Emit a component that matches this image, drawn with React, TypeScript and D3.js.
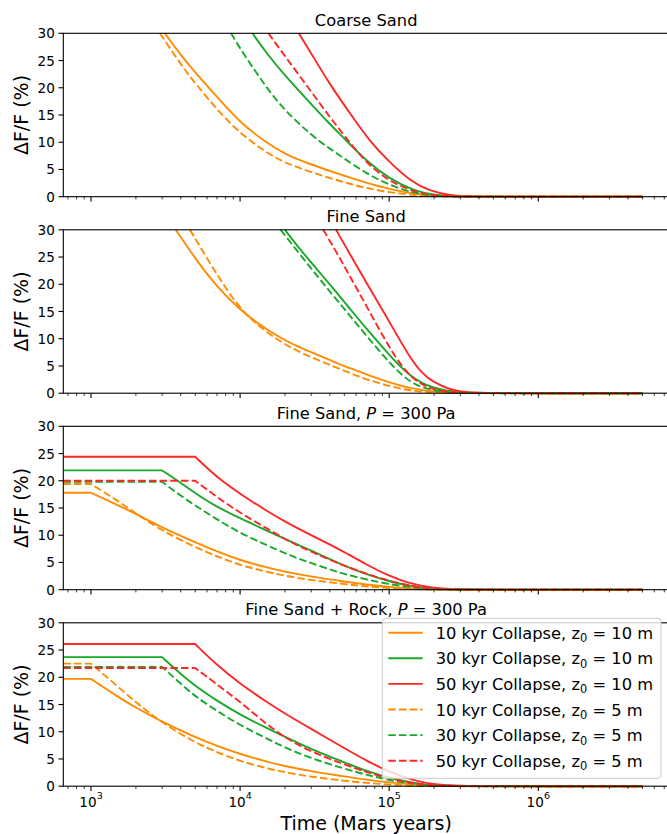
import React from "react";
import * as d3 from "d3";

type Pt = [number, number];

// ---------- data (time in Mars years, value in %) ----------
const panelTitles = ["Coarse Sand", "Fine Sand", "Fine Sand, P = 300 Pa", "Fine Sand + Rock, P = 300 Pa"];
const seriesLabels = [
  "10 kyr Collapse, z0 = 10 m",
  "30 kyr Collapse, z0 = 10 m",
  "50 kyr Collapse, z0 = 10 m",
  "10 kyr Collapse, z0 = 5 m",
  "30 kyr Collapse, z0 = 5 m",
  "50 kyr Collapse, z0 = 5 m",
];
const yTicks = [0, 5, 10, 15, 20, 25, 30];
const xMajorTicks = [1e3, 1e4, 1e5, 1e6];
const xTickExponents = ["3", "4", "5", "6"];

// Panel 1: Coarse Sand
const coarseO10: Pt[] = [[3130, 30], [4000, 26.0], [5000, 22.8], [7000, 18.3], [10000, 13.6], [15000, 9.9], [20000, 7.8], [30000, 5.9], [50000, 3.8], [70000, 2.6], [100000, 1.4], [150000, 0.45], [200000, 0.15], [300000, 0.03], [500000, 0], [5e6, 0]];
const coarseG10: Pt[] = [[12100, 30], [15000, 26.4], [20000, 22.2], [30000, 17.0], [40000, 13.3], [50000, 10.7], [70000, 6.6], [100000, 3.3], [150000, 1.0], [200000, 0.3], [300000, 0.03], [500000, 0], [5e6, 0]];
const coarseR10: Pt[] = [[24800, 30], [30000, 26.3], [40000, 20.6], [54600, 15.3], [74300, 10.1], [100000, 6.4], [138000, 2.9], [188000, 1.0], [256000, 0.25], [350000, 0.03], [500000, 0], [5e6, 0]];
const coarseO5: Pt[] = [[2900, 30], [4000, 24.3], [5000, 20.8], [7000, 16.0], [10000, 11.6], [15000, 8.1], [20000, 6.2], [30000, 4.5], [50000, 2.6], [70000, 1.6], [100000, 0.8], [150000, 0.25], [200000, 0.07], [300000, 0], [5e6, 0]];
const coarseG5: Pt[] = [[8690, 30], [10000, 27.2], [15000, 20.0], [20000, 15.8], [30000, 11.3], [40000, 8.8], [50000, 7.0], [70000, 4.3], [100000, 2.1], [150000, 0.6], [200000, 0.15], [300000, 0.01], [500000, 0], [5e6, 0]];
const coarseR5: Pt[] = [[15500, 30], [20000, 25.8], [30000, 19.3], [40000, 14.6], [50000, 11.2], [70000, 6.2], [100000, 2.8], [150000, 0.8], [200000, 0.2], [300000, 0.02], [500000, 0], [5e6, 0]];

// Panel 2: Fine Sand
const fineO10: Pt[] = [[3700, 30], [5380, 23.5], [7000, 19.6], [9480, 15.9], [12900, 12.9], [19500, 9.8], [25200, 8.4], [32700, 7.1], [42200, 5.8], [54600, 4.6], [70600, 3.4], [100000, 2.0], [138000, 0.9], [196000, 0.25], [300000, 0.03], [500000, 0], [5e6, 0]];
const fineG10: Pt[] = [[20000, 30], [25200, 26.4], [32700, 22.8], [42200, 19.2], [54600, 15.5], [70600, 11.8], [100000, 7.0], [138000, 3.0], [196000, 0.8], [300000, 0.06], [500000, 0], [5e6, 0]];
const fineR10: Pt[] = [[44000, 30], [54600, 25.5], [70600, 20.2], [100000, 13.2], [138000, 6.4], [170000, 3.4], [196000, 2.1], [256000, 0.6], [330000, 0.12], [500000, 0], [5e6, 0]];
const fineO5: Pt[] = [[4610, 30], [6970, 21.8], [9480, 16.3], [12900, 12.5], [19500, 9.1], [25200, 7.5], [32700, 6.2], [42200, 4.9], [54600, 3.7], [70600, 2.5], [100000, 1.3], [138000, 0.45], [196000, 0.1], [300000, 0.01], [500000, 0], [5e6, 0]];
const fineG5: Pt[] = [[18700, 30], [25200, 25.5], [32700, 21.6], [42200, 17.9], [54600, 14.2], [70600, 10.5], [100000, 5.6], [138000, 1.8], [196000, 0.4], [300000, 0.02], [500000, 0], [5e6, 0]];
const fineR5: Pt[] = [[36100, 30], [45000, 25.6], [54600, 21.4], [70600, 16.0], [100000, 8.3], [138000, 2.7], [196000, 0.5], [300000, 0.03], [500000, 0], [5e6, 0]];

// Panel 3: Fine Sand, P = 300 Pa
const lowPO10: Pt[] = [[652, 17.8], [1000, 17.8], [1500, 15.6], [2000, 13.9], [3000, 11.4], [5000, 8.7], [7000, 7.0], [10000, 5.4], [15000, 4.1], [20000, 3.3], [30000, 2.4], [50000, 1.5], [70000, 0.95], [100000, 0.5], [150000, 0.18], [200000, 0.05], [300000, 0], [5e6, 0]];
const lowPG10: Pt[] = [[652, 21.9], [3000, 21.9], [4160, 19.3], [5380, 17.1], [7000, 15.2], [10000, 13.1], [15000, 10.9], [20000, 9.3], [25200, 8.1], [30000, 7.2], [42200, 5.3], [50000, 4.4], [70600, 2.8], [100000, 1.5], [150000, 0.5], [200000, 0.15], [300000, 0.02], [500000, 0], [5e6, 0]];
const lowPR10: Pt[] = [[652, 24.4], [5000, 24.4], [7000, 20.6], [10000, 17.6], [15000, 14.5], [20000, 12.5], [30000, 10.0], [42200, 8.0], [50000, 6.9], [70600, 4.6], [100000, 2.5], [138000, 1.1], [196000, 0.3], [300000, 0.04], [500000, 0], [5e6, 0]];
const lowPO5: Pt[] = [[652, 19.4], [1000, 19.4], [1500, 16.4], [2000, 14.0], [3000, 10.8], [5000, 7.8], [7000, 6.1], [10000, 4.5], [15000, 3.3], [20000, 2.55], [30000, 1.75], [50000, 1.05], [70000, 0.6], [100000, 0.3], [150000, 0.08], [200000, 0.01], [300000, 0], [5e6, 0]];
const lowPG5: Pt[] = [[652, 19.8], [3000, 19.8], [4160, 16.9], [5380, 14.9], [7000, 12.9], [10000, 10.4], [15000, 8.2], [20000, 6.7], [25200, 5.6], [30000, 4.9], [42200, 3.5], [50000, 2.9], [70600, 1.85], [100000, 1.0], [150000, 0.35], [200000, 0.1], [300000, 0.01], [500000, 0], [5e6, 0]];
const lowPR5: Pt[] = [[652, 20.0], [5000, 20.0], [7000, 17.0], [10000, 14.1], [15000, 11.3], [20000, 9.3], [25200, 7.9], [30000, 7.0], [42200, 5.2], [50000, 4.4], [70600, 2.9], [100000, 1.6], [150000, 0.5], [200000, 0.14], [300000, 0.01], [500000, 0], [5e6, 0]];

// Panel 4: Fine Sand + Rock, P = 300 Pa
const rockO10: Pt[] = [[652, 19.7], [1000, 19.7], [1500, 16.5], [2000, 14.4], [3000, 11.8], [5000, 9.0], [7000, 7.4], [10000, 5.9], [15000, 4.5], [20000, 3.7], [30000, 2.7], [50000, 1.8], [70000, 1.2], [100000, 0.7], [150000, 0.25], [200000, 0.08], [300000, 0], [5e6, 0]];
const rockG10: Pt[] = [[652, 23.7], [3000, 23.7], [4000, 20.6], [5000, 18.4], [7000, 15.7], [10000, 13.1], [15000, 10.7], [20000, 9.1], [30000, 6.8], [50000, 4.4], [70000, 2.8], [100000, 1.5], [150000, 0.5], [200000, 0.15], [300000, 0.01], [500000, 0], [5e6, 0]];
const rockR10: Pt[] = [[652, 26.1], [5000, 26.1], [7000, 22.2], [10000, 18.8], [15000, 15.5], [20000, 13.3], [30000, 10.5], [50000, 7.0], [70000, 4.7], [100000, 2.6], [150000, 0.95], [200000, 0.3], [300000, 0.04], [500000, 0], [5e6, 0]];
const rockO5: Pt[] = [[652, 22.5], [1000, 22.5], [1500, 18.4], [2000, 15.4], [3000, 11.6], [5000, 8.0], [7000, 6.2], [10000, 4.6], [15000, 3.3], [20000, 2.55], [30000, 1.7], [50000, 1.0], [70000, 0.6], [100000, 0.3], [150000, 0.08], [200000, 0.01], [300000, 0], [5e6, 0]];
const rockG5: Pt[] = [[652, 21.9], [3000, 21.9], [4000, 18.8], [5000, 16.5], [7000, 13.8], [10000, 11.2], [15000, 8.8], [20000, 7.1], [30000, 5.1], [50000, 3.2], [70000, 2.1], [100000, 1.1], [150000, 0.38], [200000, 0.1], [300000, 0.01], [500000, 0], [5e6, 0]];
const rockR5: Pt[] = [[652, 21.7], [5000, 21.7], [7000, 18.7], [10000, 15.5], [15000, 11.4], [20000, 8.9], [30000, 6.3], [50000, 4.0], [70000, 2.6], [100000, 1.4], [150000, 0.45], [200000, 0.13], [300000, 0.01], [500000, 0], [5e6, 0]];

const panelSeries: Pt[][][] = [
  [coarseO10, coarseG10, coarseR10, coarseO5, coarseG5, coarseR5],
  [fineO10, fineG10, fineR10, fineO5, fineG5, fineR5],
  [lowPO10, lowPG10, lowPR10, lowPO5, lowPG5, lowPR5],
  [rockO10, rockG10, rockR10, rockO5, rockG5, rockR5],
];

// ---------- styles ----------
const COLORS = ["#ff8c00", "#18a82a", "#ff2626", "#ff8c00", "#18a82a", "#ff2626"];
const DASHED = [false, false, false, true, true, true];
const FONT = "DejaVu Sans, Liberation Sans, sans-serif";

const W = 667;
const H = 834;
const LEFT = 63.3;
const RIGHT = 669;
const PANEL_TOPS = [33.3, 229.8, 426.3, 622.8];
const PANEL_H = 163.4;

const xScale = d3.scaleLog().domain([652, 7.53e6]).range([LEFT, RIGHT]);

function minorTicks(): number[] {
  const out: number[] = [];
  for (let e = 2; e <= 6; e++) {
    for (let m = 2; m <= 9; m++) {
      const v = m * Math.pow(10, e);
      if (v >= 652 && v <= 7.53e6) out.push(v);
    }
  }
  return out;
}

function buildPath(pts: Pt[], y: d3.ScaleLinear<number, number>): string {
  const first = pts[0][1];
  let k = 0;
  while (k + 1 < pts.length && pts[k + 1][1] === first) k++;
  const lin = d3.line<Pt>().x((d) => xScale(d[0])).y((d) => y(d[1]));
  const smooth = d3
    .line<Pt>()
    .x((d) => xScale(d[0]))
    .y((d) => y(d[1]))
    .curve(d3.curveBasis);
  const flat = k > 0 ? lin(pts.slice(0, k + 1)) || "" : "";
  const rest = pts.slice(k);
  let restPath = rest.length > 1 ? smooth(rest) || "" : "";
  if (flat && restPath.startsWith("M")) {
    // continue the same subpath from the corner
    restPath = restPath.replace(/^M[^LC]*/, "");
  }
  return flat + restPath;
}

function Title({ idx, x, y }: { idx: number; x: number; y: number }) {
  const t = panelTitles[idx];
  if (t.includes("P = 300")) {
    const pre = t.split("P = 300")[0];
    return (
      <text x={x} y={y} textAnchor="middle" fontSize={16.3} fontFamily={FONT} fill="#000">
        {pre}
        <tspan fontStyle="italic">P</tspan>
        {" = 300 Pa"}
      </text>
    );
  }
  return (
    <text x={x} y={y} textAnchor="middle" fontSize={16.3} fontFamily={FONT} fill="#000">
      {t}
    </text>
  );
}

function Panel({ idx }: { idx: number }) {
  const top = PANEL_TOPS[idx];
  const bottom = top + PANEL_H;
  const y = d3.scaleLinear().domain([0, 30]).range([bottom, top]);
  const clipId = `clip-${idx}`;
  const isLast = idx === PANEL_TOPS.length - 1;
  const series = panelSeries[idx];
  return (
    <g>
      <defs>
        <clipPath id={clipId}>
          <rect x={LEFT} y={top - 2} width={RIGHT - LEFT} height={PANEL_H + 4} />
        </clipPath>
      </defs>
      <g clipPath={`url(#${clipId})`}>
        {series.map((pts, i) => (
          <path
            key={i}
            d={buildPath(pts, y)}
            fill="none"
            stroke={COLORS[i]}
            strokeWidth={1.9}
            strokeDasharray={DASHED[i] ? "7.5,3.2" : undefined}
            strokeLinejoin="round"
          />
        ))}
      </g>
      {/* spines */}
      <rect x={LEFT} y={top} width={RIGHT - LEFT} height={PANEL_H} fill="none" stroke="#000" strokeWidth={1.1} />
      {/* y ticks */}
      {yTicks.map((t) => (
        <g key={t}>
          <line x1={LEFT - 4.8} x2={LEFT} y1={y(t)} y2={y(t)} stroke="#000" strokeWidth={1.1} />
          <text x={LEFT - 8.5} y={y(t) + 5} textAnchor="end" fontSize={13.6} fontFamily={FONT} fill="#000">
            {t}
          </text>
        </g>
      ))}
      {/* x ticks */}
      {xMajorTicks.map((t) => (
        <line key={t} x1={xScale(t)} x2={xScale(t)} y1={bottom} y2={bottom + 4.8} stroke="#000" strokeWidth={1.1} />
      ))}
      {minorTicks().map((t) => (
        <line key={t} x1={xScale(t)} x2={xScale(t)} y1={bottom} y2={bottom + 2.7} stroke="#000" strokeWidth={0.8} />
      ))}
      {isLast &&
        xMajorTicks.map((t, i) => (
          <text key={t} x={xScale(t)} y={bottom + 20.5} textAnchor="middle" fontSize={13.6} fontFamily={FONT} fill="#000">
            10
            <tspan fontSize={9.5} dy={-7.5}>
              {xTickExponents[i]}
            </tspan>
          </text>
        ))}
      <Title idx={idx} x={(LEFT + RIGHT) / 2} y={top - 7.8} />
      <text
        transform={`translate(27.5, ${(top + bottom) / 2}) rotate(-90)`}
        textAnchor="middle"
        fontSize={19}
        fontFamily={FONT}
        fill="#000"
      >
        ΔF/F (%)
      </text>
    </g>
  );
}

function Legend() {
  const x0 = 382.3;
  const y0 = 618.3;
  const rowY = (i: number) => 632.7 + i * 25.6;
  return (
    <g>
      <rect x={x0} y={y0} width={278.7} height={160} rx={3} fill="#fff" fillOpacity={0.8} stroke="#cccccc" strokeWidth={1} />
      {seriesLabels.map((lab, i) => {
        const [pre, post] = lab.split("z0");
        return (
          <g key={i}>
            <line
              x1={388.3}
              x2={422.7}
              y1={rowY(i)}
              y2={rowY(i)}
              stroke={COLORS[i]}
              strokeWidth={1.9}
              strokeDasharray={DASHED[i] ? "7.5,3.2" : undefined}
            />
            <text x={435.7} y={rowY(i) + 6} fontSize={16.3} fontFamily={FONT} fill="#000">
              {pre}z
              <tspan fontSize={11.4} dy={3.5}>
                0
              </tspan>
              <tspan dy={-3.5}>{post}</tspan>
            </text>
          </g>
        );
      })}
    </g>
  );
}

export default function App() {
  return (
    <svg
      width={W}
      height={H}
      viewBox={`0 0 ${W} ${H}`}
      style={{ position: "absolute", left: 0, top: 0, background: "#fff" }}
    >
      <rect x={0} y={0} width={W} height={H} fill="#fff" />
      {PANEL_TOPS.map((_, i) => (
        <Panel key={i} idx={i} />
      ))}
      <Legend />
      <text x={(LEFT + RIGHT) / 2} y={830} textAnchor="middle" fontSize={19} fontFamily={FONT} fill="#000">
        Time (Mars years)
      </text>
    </svg>
  );
}
